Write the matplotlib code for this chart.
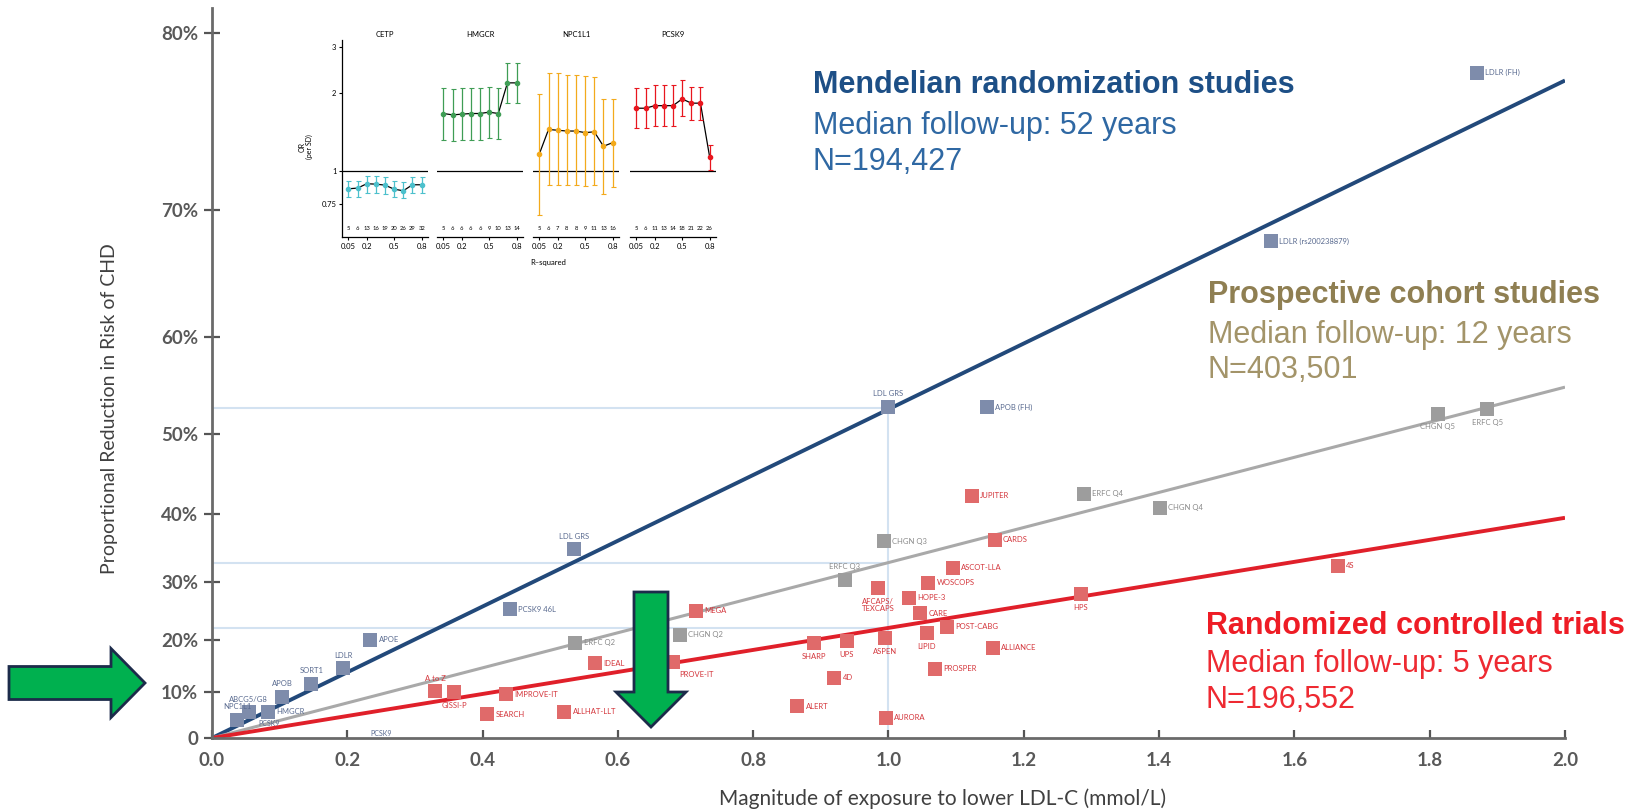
import numpy as np
import matplotlib.pyplot as plt
from matplotlib.patches import FancyArrow

# --- main chart data (x = mmol/L LDL-C lowering, y = proportional risk reduction) ---
mr_names = ['LDLR (FH)', 'LDLR (rs200238879)', 'LDL GRS', 'APOB (FH)', 'LDL GRS',
            'PCSK9 46L', 'APOE', 'LDLR', 'SORT1', 'APOB', 'ABCG5/G8', 'HMGCR', 'NPC1L1']
mr_x = [1.87, 1.565, 1.0, 1.145, 0.535, 0.44, 0.234, 0.194, 0.147, 0.104, 0.054, 0.083, 0.037]
mr_y = [0.781, 0.678, 0.530, 0.530, 0.350, 0.255, 0.201, 0.147, 0.116, 0.090, 0.057, 0.058, 0.040]
mr_lab = ['r', 'r', 'a', 'r', 'a', 'r', 'r', 'a', 'a', 'a', 'a', 'r', 'a']

cohort_names = ['ERFC Q5', 'CHGN Q5', 'ERFC Q4', 'CHGN Q4', 'CHGN Q3', 'ERFC Q3', 'CHGN Q2', 'ERFC Q2']
cohort_x = [1.885, 1.812, 1.289, 1.401, 0.993, 0.935, 0.692, 0.537]
cohort_y = [0.528, 0.523, 0.427, 0.409, 0.362, 0.303, 0.210, 0.195]
cohort_lab = ['b', 'b', 'r', 'r', 'r', 'a', 'r', 'r']

rct_names = ['4S', 'HPS', 'JUPITER', 'CARDS', 'ASCOT-LLA', 'WOSCOPS', 'AFCAPS/\nTEXCAPS', 'HOPE-3',
             'CARE', 'POST-CABG', 'LIPID', 'ASPEN', 'ALLIANCE', 'PROSPER', 'AURORA', 'SHARP', 'UPS',
             '4D', 'ALERT', 'MEGA', 'IDEAL', 'PROVE-IT', 'A to Z', 'GISSI-P', 'IMPROVE-IT', 'SEARCH',
             'ALLHAT-LLT']
rct_x = [1.664, 1.284, 1.123, 1.157, 1.095, 1.059, 0.985, 1.03, 1.047, 1.086, 1.057, 0.995, 1.154,
         1.068, 0.996, 0.89, 0.938, 0.92, 0.865, 0.716, 0.566, 0.682, 0.33, 0.358, 0.434, 0.407, 0.521]
rct_y = [0.325, 0.280, 0.425, 0.364, 0.322, 0.298, 0.290, 0.274, 0.248, 0.224, 0.213, 0.204, 0.186,
         0.146, 0.045, 0.195, 0.198, 0.128, 0.070, 0.252, 0.157, 0.160, 0.101, 0.100, 0.095, 0.053,
         0.058]
rct_lab = ['r', 'b', 'r', 'r', 'r', 'r', 'b', 'r', 'r', 'r', 'b', 'b', 'r', 'r', 'r', 'b', 'b',
           'r', 'r', 'r', 'r', 'br', 'a', 'b', 'r', 'r', 'r']

extra_labels = ['PCSK9', 'PCSK9']
extra_x = [0.085, 0.25]
extra_y = [0.033, 0.011]

fit_x = [0.0, 2.0]
mr_fit = [0.0, 0.777]
cohort_fit = [0.0, 0.551]
rct_fit = [0.0, 0.395]
guide_y = [0.529, 0.330, 0.222]
guide_x = 1.0

yticks = [0, 0.1, 0.2, 0.3, 0.4, 0.5, 0.6, 0.7, 0.8]
ytick_labels = ['0', '10%', '20%', '30%', '40%', '50%', '60%', '70%', '80%']
xticks = [0.0, 0.2, 0.4, 0.6, 0.8, 1.0, 1.2, 1.4, 1.6, 1.8, 2.0]

# --- inset data: OR per SD by R-squared threshold ---
genes = ['CETP', 'HMGCR', 'NPC1L1', 'PCSK9']
r2_labels = ['0.05', '0.2', '0.5', '0.8']
r2_pos = [0, 2, 5, 8]
or_vals = [
    [0.858, 0.863, 0.897, 0.894, 0.886, 0.855, 0.843, 0.889, 0.889],
    [1.67, 1.65, 1.66, 1.67, 1.67, 1.69, 1.67, 2.19, 2.19],
    [1.17, 1.45, 1.44, 1.43, 1.43, 1.41, 1.42, 1.25, 1.29],
    [1.75, 1.75, 1.79, 1.79, 1.79, 1.90, 1.83, 1.83, 1.14],
]
or_lo = [
    [0.80, 0.80, 0.83, 0.83, 0.82, 0.80, 0.79, 0.83, 0.83],
    [1.32, 1.31, 1.32, 1.32, 1.32, 1.34, 1.33, 1.83, 1.83],
    [0.68, 0.89, 0.89, 0.89, 0.89, 0.88, 0.89, 0.82, 0.87],
    [1.47, 1.47, 1.50, 1.50, 1.50, 1.63, 1.58, 1.58, 1.01],
]
or_hi = [
    [0.92, 0.92, 0.96, 0.96, 0.95, 0.92, 0.91, 0.95, 0.95],
    [2.09, 2.08, 2.09, 2.09, 2.09, 2.12, 2.09, 2.61, 2.61],
    [1.98, 2.40, 2.38, 2.35, 2.34, 2.32, 2.31, 1.90, 1.90],
    [2.10, 2.10, 2.14, 2.14, 2.14, 2.25, 2.12, 2.12, 1.26],
]
n_variants = [
    ['5', '6', '13', '16', '19', '20', '26', '29', '32'],
    ['5', '6', '6', '6', '6', '9', '10', '13', '14'],
    ['5', '6', '7', '8', '8', '9', '11', '13', '16'],
    ['5', '6', '11', '13', '14', '18', '21', '22', '26'],
]
gene_colors = ['#4cc0cc', '#3f9d55', '#f3aa1c', '#e8161e']

W, H = 1633, 810
fig = plt.figure(figsize=(W / 100, H / 100), dpi=100)
plt.rcParams['font.family'] = ['Lato', 'DejaVu Sans']


def fwd(p):
    return -np.log(1 - np.clip(p, -10, 0.9999))


def inv(t):
    return 1 - np.exp(-t)


ax = fig.add_axes([212 / W, 1 - 738 / H, (1565 - 212) / W, 730 / H])
ax.set_yscale('function', functions=(fwd, inv))
ax.set_xlim(0, 2.0)
ax.set_ylim(0, 0.811)

for s in ['top', 'right']:
    ax.spines[s].set_visible(False)
for s in ['left', 'bottom']:
    ax.spines[s].set_color('#6a6a6a')
    ax.spines[s].set_linewidth(2)

ax.set_yticks(yticks)
ax.set_yticklabels(ytick_labels)
ax.set_xticks(xticks)
ax.set_xticklabels([f'{v:.1f}' for v in xticks])
ax.yaxis.set_minor_locator(plt.NullLocator())
ax.tick_params(axis='y', direction='inout', length=12, width=1.6, color='#555555',
               labelsize=13.5, labelcolor='#595959', pad=4)
ax.tick_params(axis='x', direction='in', length=6, width=1.6, color='#555555',
               labelsize=13.5, labelcolor='#595959', pad=10)
for lab in ax.get_xticklabels() + ax.get_yticklabels():
    lab.set_fontweight('bold')

# guides
for gy in guide_y:
    ax.plot([0, guide_x], [gy, gy], color='#d3e2f1', lw=1.5, zorder=1)
ax.plot([guide_x, guide_x], [0, guide_y[0]], color='#d3e2f1', lw=1.5, zorder=1)

# regression lines
ax.plot(fit_x, mr_fit, color='#22497a', lw=2.8, zorder=2, solid_capstyle='butt')
ax.plot(fit_x, cohort_fit, color='#a9a9a9', lw=2.2, zorder=2, solid_capstyle='butt')
ax.plot(fit_x, rct_fit, color='#e0202a', lw=2.8, zorder=2, solid_capstyle='butt')

offsets = {'r': ((6, 0), 'left', 'center'),
           'a': ((0, 7), 'center', 'bottom'),
           'b': ((0, -7), 'center', 'top'),
           'br': ((4, -7), 'left', 'top')}


def draw_group(xs, ys, names, labs, mcolor, tcolor):
    ax.scatter(xs, ys, marker='s', s=105, color=mcolor, zorder=3, linewidths=0)
    for x, y, n, l in zip(xs, ys, names, labs):
        off, ha, va = offsets[l]
        ax.annotate(n, (x, y), xytext=off, textcoords='offset points', fontsize=5.5,
                    color=tcolor, ha=ha, va=va, zorder=4, linespacing=1.0)


draw_group(mr_x, mr_y, mr_names, mr_lab, '#7e8cab', '#5a6b90')
draw_group(cohort_x, cohort_y, cohort_names, cohort_lab, '#9d9d9d', '#8a8a8a')
draw_group(rct_x, rct_y, rct_names, rct_lab, '#e06a6a', '#d4363c')
for n, x, y in zip(extra_labels, extra_x, extra_y):
    ax.annotate(n, (x, y), xytext=(0, 0), textcoords='offset points', fontsize=5,
                color='#5a6b90', ha='center', va='center')

ax.set_ylabel('Proportional Reduction in Risk of CHD', fontsize=14, color='#404040')
ax.yaxis.set_label_coords((118 - 212) / (1565 - 212), (738 - 409) / 730)
fig.text(943 / W, 1 - 799 / H, 'Magnitude of exposure to lower LDL-C (mmol/L)',
         fontsize=15, color='#404040', ha='center', va='center')

# headline blocks
hfam = ['Liberation Sans', 'DejaVu Sans']
blocks = [
    (813, [85, 126, 162], ['Mendelian randomization studies', 'Median follow-up: 52 years', 'N=194,427'],
     ['#1d4f86', '#2f68a3', '#2f68a3']),
    (1208, [295, 335, 370], ['Prospective cohort studies', 'Median follow-up: 12 years', 'N=403,501'],
     ['#8f7f52', '#a39469', '#a39469']),
    (1206, [626, 664, 700], ['Randomized controlled trials', 'Median follow-up: 5 years', 'N=196,552'],
     ['#ee1c25', '#ee2a32', '#ee2a32']),
]
for bx, bys, texts, cols in blocks:
    for i, (by, t, c) in enumerate(zip(bys, texts, cols)):
        fig.text(bx / W, 1 - by / H, t, fontsize=22, family=hfam, color=c,
                 fontweight='bold' if i == 0 else 'normal', ha='left', va='center')

# inset panels
inset_lefts = [342, 437, 533, 630]
for k, gene in enumerate(genes):
    iax = fig.add_axes([inset_lefts[k] / W, 1 - 237 / H, 86 / W, 197 / H])
    iax.set_facecolor('none')
    iax.set_yscale('log')
    iax.set_ylim(0.56, 3.2)
    iax.set_xlim(-0.7, 8.7)
    idx = np.arange(len(or_vals[k]))
    iax.axhline(1, color='black', lw=0.9, zorder=1)
    iax.plot(idx, or_vals[k], color='black', lw=0.9, zorder=2)
    v = np.array(or_vals[k])
    err = [v - np.array(or_lo[k]), np.array(or_hi[k]) - v]
    iax.errorbar(idx, v, yerr=err, fmt='o', ms=3, color=gene_colors[k], ecolor=gene_colors[k],
                 elinewidth=0.9, capsize=1.8, capthick=0.8, zorder=3)
    for s in ['top', 'right']:
        iax.spines[s].set_visible(False)
    iax.spines['bottom'].set_linewidth(0.9)
    iax.set_xticks(r2_pos)
    iax.set_xticklabels(r2_labels)
    iax.tick_params(axis='x', length=2.5, width=0.8, labelsize=5.5, pad=1.5)
    iax.yaxis.set_minor_locator(plt.NullLocator())
    if k == 0:
        iax.spines['left'].set_linewidth(0.9)
        iax.set_yticks([0.75, 1, 2, 3])
        iax.set_yticklabels(['0.75', '1', '2', '3'])
        iax.tick_params(axis='y', length=2.5, width=0.8, labelsize=5.5, pad=1.5)
    else:
        iax.spines['left'].set_visible(False)
        iax.set_yticks([])
    iax.set_title(gene, fontsize=5.5, pad=2)
    for i, n in enumerate(n_variants[k]):
        iax.text(i, 0.045, n, transform=iax.get_xaxis_transform(), fontsize=4.2,
                 ha='center', va='center')

fig.text(548 / W, 1 - 262 / H, 'R\u2013squared', fontsize=5.5, ha='center', va='center')
fig.text(306 / W, 1 - 147 / H, 'OR\n(per SD)', fontsize=5, ha='center', va='center',
         rotation=90, linespacing=1.1)

# green arrows
arrow_style = dict(length_includes_head=True, transform=fig.dpi_scale_trans,
                   fc='#00b04f', ec='#1c2b4a', lw=2, zorder=10)
fig.add_artist(FancyArrow(0.09, 1.27, 1.36, 0, width=0.33, head_width=0.69,
                          head_length=0.34, **arrow_style))
fig.add_artist(FancyArrow(6.51, 2.18, 0, -1.35, width=0.34, head_width=0.70,
                          head_length=0.35, **arrow_style))

fig.savefig('out.png', dpi=100)
